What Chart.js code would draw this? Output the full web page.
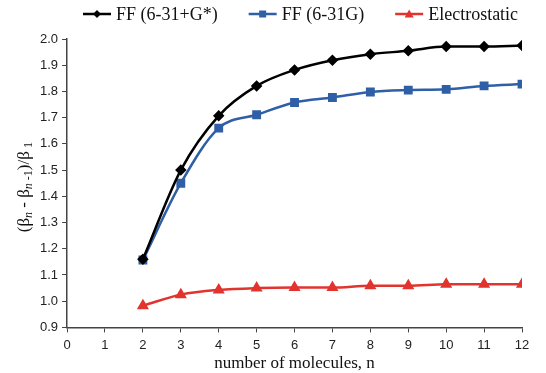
<!DOCTYPE html>
<html>
<head>
<meta charset="utf-8">
<script src="https://cdn.jsdelivr.net/npm/chart.js@4"></script>
<style>
  body { margin: 0; background: #fff; }
  #wrap { width: 546px; height: 373px; }
</style>
</head>
<body>
<div id="wrap"><canvas id="chart"></canvas></div>
<script>
// values
const molecules = [2, 3, 4, 5, 6, 7, 8, 9, 10, 11, 12];
const ffDiffuse = [1.16, 1.50, 1.707, 1.821, 1.882, 1.919, 1.942, 1.955, 1.971, 1.971, 1.975];
const ffPlain = [1.157, 1.45, 1.66, 1.711, 1.758, 1.777, 1.798, 1.805, 1.808, 1.821, 1.828];
const electrostatic = [0.983, 1.025, 1.043, 1.050, 1.052, 1.052, 1.059, 1.059, 1.065, 1.065, 1.065];
const seriesNames = ['FF (6-31+G*)', 'FF (6-31G)', 'Electrostatic'];
const seriesColors = ['#000000', '#2f5fa7', '#e2342f'];
const seriesMarkers = ['rectRot', 'rect', 'triangle'];

const serif = '"Liberation Serif", "Times New Roman", serif';
const sans = '"Liberation Sans", Arial, sans-serif';

function pts(vals) {
    return vals.map((v, i) => ({ x: molecules[i], y: v }));
}

function marker(g, kind, cx, cy) {
    g.beginPath();
    if (kind === 'rectRot') {
        g.moveTo(cx, cy - 4); g.lineTo(cx + 4, cy); g.lineTo(cx, cy + 4); g.lineTo(cx - 4, cy);
    } else if (kind === 'rect') {
        g.rect(cx - 3.5, cy - 3.5, 7, 7);
    } else {
        g.moveTo(cx, cy - 4.5); g.lineTo(cx + 4.5, cy + 3.5); g.lineTo(cx - 4.5, cy + 3.5);
    }
    g.closePath(); g.fill();
}

// legend drawn by hand: line + marker sample, then the name
const topLegend = {
    id: 'topLegend',
    afterDraw(chart) {
        const g = chart.ctx;
        const y = 14;
        let x = 83;
        g.save();
        g.font = '18px ' + serif;
        g.textBaseline = 'middle';
        seriesNames.forEach((name, i) => {
            g.strokeStyle = seriesColors[i];
            g.fillStyle = seriesColors[i];
            g.lineWidth = 2.5;
            g.beginPath(); g.moveTo(x, y); g.lineTo(x + 28, y); g.stroke();
            marker(g, seriesMarkers[i], x + 14, y);
            g.fillStyle = '#111';
            g.fillText(name, x + 33, y + 1);
            x += 33 + g.measureText(name).width + 31;
        });
        g.restore();
    }
};

// axis titles, y one with the small italic n's
const axisTitles = {
    id: 'axisTitles',
    afterDraw(chart) {
        const ctx = chart.ctx;
        const area = chart.chartArea;
        ctx.save();
        ctx.fillStyle = '#111';
        ctx.font = '17px ' + serif;
        ctx.textAlign = 'center';
        ctx.textBaseline = 'middle';
        ctx.fillText('number of molecules, n', (area.left + area.right) / 2, 364);
        ctx.restore();

        const parts = [
            ['(β', '17px ' + serif, 0],
            ['n', 'italic 12px ' + serif, 3],
            [' - β', '17px ' + serif, 0],
            ['n', 'italic 12px ' + serif, 3],
            [' -1', '12px ' + serif, 3],
            [')/β', '17px ' + serif, 0],
            [' 1', '12px ' + serif, 3]
        ];
        ctx.save();
        let total = 0;
        parts.forEach(p => { ctx.font = p[1]; total += ctx.measureText(p[0]).width; });
        ctx.translate(29, (area.top + area.bottom) / 2 + 4);
        ctx.rotate(-Math.PI / 2);
        ctx.fillStyle = '#111';
        ctx.textBaseline = 'alphabetic';
        let x = -total / 2;
        parts.forEach(p => {
            ctx.font = p[1];
            ctx.fillText(p[0], x, p[2]);
            x += ctx.measureText(p[0]).width;
        });
        ctx.restore();
    }
};

const datasets = seriesNames.map((name, i) => ({
    label: name,
    data: pts([ffDiffuse, ffPlain, electrostatic][i]),
    borderColor: seriesColors[i],
    backgroundColor: seriesColors[i],
    pointStyle: seriesMarkers[i],
    pointRadius: i === 0 ? 4 : 4.5,
    borderWidth: 2.5,
    cubicInterpolationMode: 'monotone'
}));

new Chart(document.getElementById('chart'), {
    type: 'line',
    data: { datasets },
    options: {
        responsive: true,
        maintainAspectRatio: false,
        animation: false,
        layout: { padding: { left: 36, right: 24, top: 39, bottom: 15 } },
        plugins: {
            tooltip: { enabled: false },
            legend: { display: false }
        },
        scales: {
            x: {
                type: 'linear',
                min: 0,
                max: 12,
                ticks: { stepSize: 1, color: '#222', font: { family: sans, size: 13 }, padding: 5 },
                grid: { display: true, drawOnChartArea: false, drawTicks: true, tickLength: 5, color: '#444' },
                border: { display: true, color: '#444', width: 1.5 }
            },
            y: {
                min: 0.9,
                max: 2.0,
                ticks: {
                    stepSize: 0.1,
                    color: '#222',
                    font: { family: sans, size: 13 },
                    padding: 4,
                    callback: v => v.toFixed(1)
                },
                grid: { display: true, drawOnChartArea: false, drawTicks: true, tickLength: 5, color: '#444' },
                border: { display: true, color: '#444', width: 1.5 }
            }
        }
    },
    plugins: [topLegend, axisTitles]
});
</script>
</body>
</html>
